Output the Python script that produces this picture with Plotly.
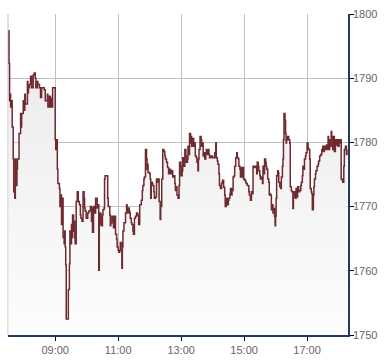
import datetime as dt
import plotly.graph_objects as go

# session start and minute offsets of each price change
session_start = "07:30"
minutes = [
    1, 2, 3, 4, 5, 6, 8, 10, 11, 13, 14, 15, 17, 18, 21, 24, 25, 26, 29, 30, 32, 33, 37, 38, 39, 41, 43, 45, 48, 50,
    52, 53, 56, 57, 60, 62, 64, 69, 71, 75, 76, 79, 81, 83, 84, 85, 89, 90, 91, 92, 94, 95, 98, 99, 100, 102, 103,
    105, 107, 108, 109, 110, 111, 114, 115, 117, 118, 119, 121, 122, 123, 125, 126, 127, 128, 130, 132, 134, 136,
    138, 139, 141, 143, 145, 146, 147, 149, 152, 154, 157, 159, 160, 161,
    163, 165, 167, 170, 172, 173, 174, 175, 177, 178, 180, 181, 183, 184, 185, 189, 190, 191, 194, 195, 196, 198,
    200, 201, 203, 205, 207, 208, 210, 211, 213, 214, 216, 217, 218, 219, 221, 224, 226, 227, 229, 231, 232, 233,
    235, 236, 238, 239, 241, 243, 245, 247, 249, 251, 254, 256, 257, 259, 260, 262, 264, 265, 266, 267, 270, 271,
    272, 273, 275, 276, 278, 279, 281, 283, 284, 286, 288, 290, 291, 293, 295, 297, 299, 300, 302, 304, 306, 308,
    310, 312, 314, 316, 318, 319, 321, 322, 324, 326,
    327, 329, 330, 332, 333, 335, 337, 339, 340, 342, 343, 345, 346, 348, 349, 350, 352, 354, 356, 357, 359, 360,
    362, 363, 364, 366, 368, 369, 371, 372, 374, 375, 377, 378, 380, 381, 383, 384, 387, 390, 394, 396, 397, 399,
    400, 402, 403, 405, 407, 408, 409, 411, 413, 414, 416, 418, 420, 421, 423, 424, 426, 427, 429, 431, 432, 434,
    436, 437, 439, 440, 442, 443, 445, 446, 448, 449, 451, 453, 454, 456, 459, 460, 462, 464, 465, 467, 470, 472,
    474, 475, 477, 478, 480, 481,
    483, 485, 486, 488, 489, 491, 492, 493, 495, 497, 498, 499, 500, 502, 504, 505, 506, 508, 509, 510, 511, 512,
    514, 515, 516, 518, 520, 521, 523, 524, 525, 526, 528, 529, 530, 531, 533, 535, 537, 538, 540, 541, 543, 544,
    546, 548, 549, 551, 552, 554, 556, 558, 559, 561, 562, 563, 565, 567, 568, 570, 572, 573, 575, 576, 578, 579,
    580, 582, 583, 584, 586, 587, 589, 591, 592, 594, 596, 598, 600, 601, 603, 605, 607, 608, 610, 611, 613, 614,
    616, 617, 619, 620, 622, 624, 626, 627, 629, 631, 632, 634, 635, 637, 638, 640, 641, 643, 645, 646,
]
prices = [
    1797.4, 1792.3, 1786.5, 1787.5, 1785.5, 1786.5, 1782.4, 1777.4, 1772.3, 1771.3, 1777.4, 1773.3, 1775.8, 1777.4,
    1781.4, 1784.5, 1782.4, 1784.5, 1786.5, 1785.0, 1787.5, 1786.0, 1789.5, 1787.7, 1788.5, 1789.0, 1790.3, 1788.5,
    1790.5, 1790.8, 1790.0, 1788.5, 1789.5, 1789.0, 1788.5, 1787.0, 1788.5, 1788.2, 1786.5, 1787.5, 1785.5, 1787.2,
    1785.5, 1786.8, 1785.5, 1788.5, 1788.5, 1780.4, 1778.9, 1780.4, 1775.8, 1773.6, 1772.8, 1770.0, 1771.8, 1767.2,
    1771.3, 1765.2, 1764.2, 1766.2, 1763.7, 1760.9, 1752.5, 1752.5, 1757.1, 1761.1, 1766.2, 1764.2, 1767.2, 1765.2,
    1768.7, 1766.2, 1767.7, 1765.2, 1764.2, 1770.8, 1772.3, 1770.8, 1770.3, 1768.7, 1768.2, 1767.7, 1772.3, 1771.3,
    1769.8, 1769.3, 1768.2, 1769.0, 1769.3, 1770.0, 1767.7, 1769.8, 1766.0,
    1770.0, 1769.0, 1771.3, 1769.8, 1770.3, 1760.1, 1767.2, 1769.0, 1768.0, 1767.0, 1768.7, 1769.5, 1769.8, 1774.3,
    1774.8, 1774.8, 1771.3, 1770.0, 1768.7, 1767.0, 1767.5, 1768.5, 1768.0, 1766.7, 1768.5, 1765.7, 1764.9, 1763.7,
    1763.2, 1762.9, 1763.2, 1764.4, 1764.0, 1760.4, 1763.7, 1766.2, 1767.5, 1769.0, 1770.3, 1769.0, 1769.8, 1769.3,
    1769.0, 1768.2, 1767.5, 1767.2, 1766.2, 1765.7, 1768.2, 1768.5, 1769.0, 1768.7, 1767.2, 1770.3, 1771.0, 1772.5,
    1773.3, 1774.3, 1774.6, 1778.9, 1777.4, 1775.8, 1776.6, 1775.3, 1775.1, 1774.3, 1771.3, 1773.8, 1773.6, 1773.3,
    1772.3, 1771.3, 1771.5, 1774.3, 1773.8, 1774.3, 1770.8, 1768.0, 1770.0, 1774.3, 1778.9, 1778.6, 1777.9, 1777.4,
    1776.9, 1776.1, 1775.1, 1775.8, 1775.1, 1775.6, 1774.6, 1774.8, 1773.6, 1772.5, 1773.1, 1771.8, 1771.3, 1773.3,
    1776.9, 1776.3, 1774.8, 1775.6, 1777.6, 1776.3, 1778.9, 1777.9, 1776.9, 1777.4, 1779.4, 1778.1, 1781.4, 1779.9,
    1780.9, 1779.4, 1780.6, 1779.4, 1779.9, 1777.9, 1777.6, 1776.9, 1775.6, 1777.4, 1778.9, 1780.9, 1780.4, 1779.4,
    1779.9, 1777.9, 1778.4, 1777.4, 1778.4, 1778.9, 1778.1, 1778.9, 1778.1, 1777.6, 1777.9, 1777.6, 1778.4, 1779.9,
    1777.6, 1777.1, 1776.6, 1775.1, 1773.3, 1772.8, 1773.6, 1773.8, 1774.1, 1773.0, 1771.8, 1770.0, 1771.3, 1770.3,
    1771.0, 1771.3, 1772.0, 1772.8, 1771.8, 1772.5, 1774.6, 1774.8, 1776.3, 1777.6, 1778.4, 1777.6, 1777.4, 1776.3,
    1775.8, 1774.6, 1776.1, 1774.6, 1776.1, 1774.3, 1774.1, 1773.8, 1773.6, 1773.3, 1772.3, 1771.8, 1771.0, 1772.3,
    1772.0, 1776.3, 1776.1, 1776.3, 1775.1, 1776.9, 1776.3, 1775.6, 1774.8, 1774.3,
    1774.6, 1773.6, 1776.3, 1775.1, 1777.4, 1776.9, 1776.3, 1775.8, 1774.3, 1773.8, 1771.8, 1772.0, 1771.8, 1769.5,
    1770.3, 1769.0, 1769.7, 1768.5, 1767.0, 1768.5, 1771.3, 1774.8, 1775.6, 1775.3, 1773.8, 1773.1, 1772.8, 1774.6,
    1776.3, 1777.4, 1780.4, 1784.5, 1783.4, 1781.4, 1779.9, 1780.4, 1780.9, 1780.4, 1779.9, 1773.1, 1772.5, 1772.3,
    1769.7, 1771.5, 1772.3, 1771.3, 1772.8, 1771.5, 1773.1, 1772.3, 1772.5, 1773.3, 1773.8, 1774.8, 1776.3, 1775.8,
    1777.4, 1777.9, 1778.4, 1779.9, 1779.1, 1778.9, 1777.4, 1772.8, 1772.3, 1772.0, 1769.5, 1771.8, 1773.1, 1774.3,
    1775.1, 1775.6, 1776.3, 1776.6, 1777.1, 1777.9, 1778.1, 1778.9, 1779.4, 1778.6, 1779.4, 1778.9, 1779.6, 1778.9,
    1780.9, 1778.9, 1780.4, 1779.4, 1781.7, 1780.9, 1778.9, 1780.9, 1778.6, 1780.4, 1779.6, 1780.4, 1779.4, 1780.4,
    1779.9, 1780.4, 1774.3, 1774.1, 1773.8, 1776.3, 1778.9, 1779.4, 1778.1, 1778.9,
]
x_tick_labels = ["09:00", "11:00", "13:00", "15:00", "17:00"]
y_tick_values = [1750, 1760, 1770, 1780, 1790, 1800]
x_range_labels = ["07:30", "18:18"]

day = dt.date(2024, 1, 2)
t0 = dt.datetime.combine(day, dt.datetime.strptime(session_start, "%H:%M").time())
times = [t0 + dt.timedelta(minutes=m) for m in minutes]


def at(hhmm):
    return dt.datetime.combine(day, dt.datetime.strptime(hhmm, "%H:%M").time())


fig = go.Figure()
fig.add_trace(go.Scatter(
    x=times, y=prices, mode="lines",
    line=dict(color="#6e2a2e", width=1.5, shape="hv"),
    fill="tozeroy",
    fillgradient=dict(type="vertical", start=1750, stop=1800,
                      colorscale=[[0, "#fdfdfd"], [1, "#e9e9e9"]]),
    hoverinfo="skip", showlegend=False,
))

font = dict(family="Liberation Sans, Arial, sans-serif", size=11, color="#666666")
fig.update_layout(
    width=390, height=364,
    margin=dict(l=8, r=42, t=11, b=24),
    paper_bgcolor="white", plot_bgcolor="white",
    font=font,
    xaxis=dict(
        type="date",
        range=[at(x_range_labels[0]), at(x_range_labels[1])],
        tickvals=[at(t) for t in x_tick_labels], ticktext=x_tick_labels,
        showgrid=True, gridcolor="#c0c0c0", gridwidth=1,
        showline=True, linecolor="#1f3a66", linewidth=1.5,
        ticks="outside", ticklen=4, tickcolor="#000000", tickwidth=1,
        zeroline=False, tickfont=font,
    ),
    yaxis=dict(
        side="right", range=[1750, 1800],
        tickvals=y_tick_values,
        showgrid=True, gridcolor="#c0c0c0", gridwidth=1,
        showline=True, linecolor="#1f3a66", linewidth=1.5,
        ticks="outside", ticklen=4, tickcolor="#000000", tickwidth=1,
        ticklabelstandoff=-3,
        zeroline=False, tickfont=font,
    ),
    shapes=[dict(type="line", xref="paper", yref="paper", x0=0, x1=0, y0=0, y1=1,
                 line=dict(color="#c0c0c0", width=1), layer="below")],
)

fig.write_html("out.html")
